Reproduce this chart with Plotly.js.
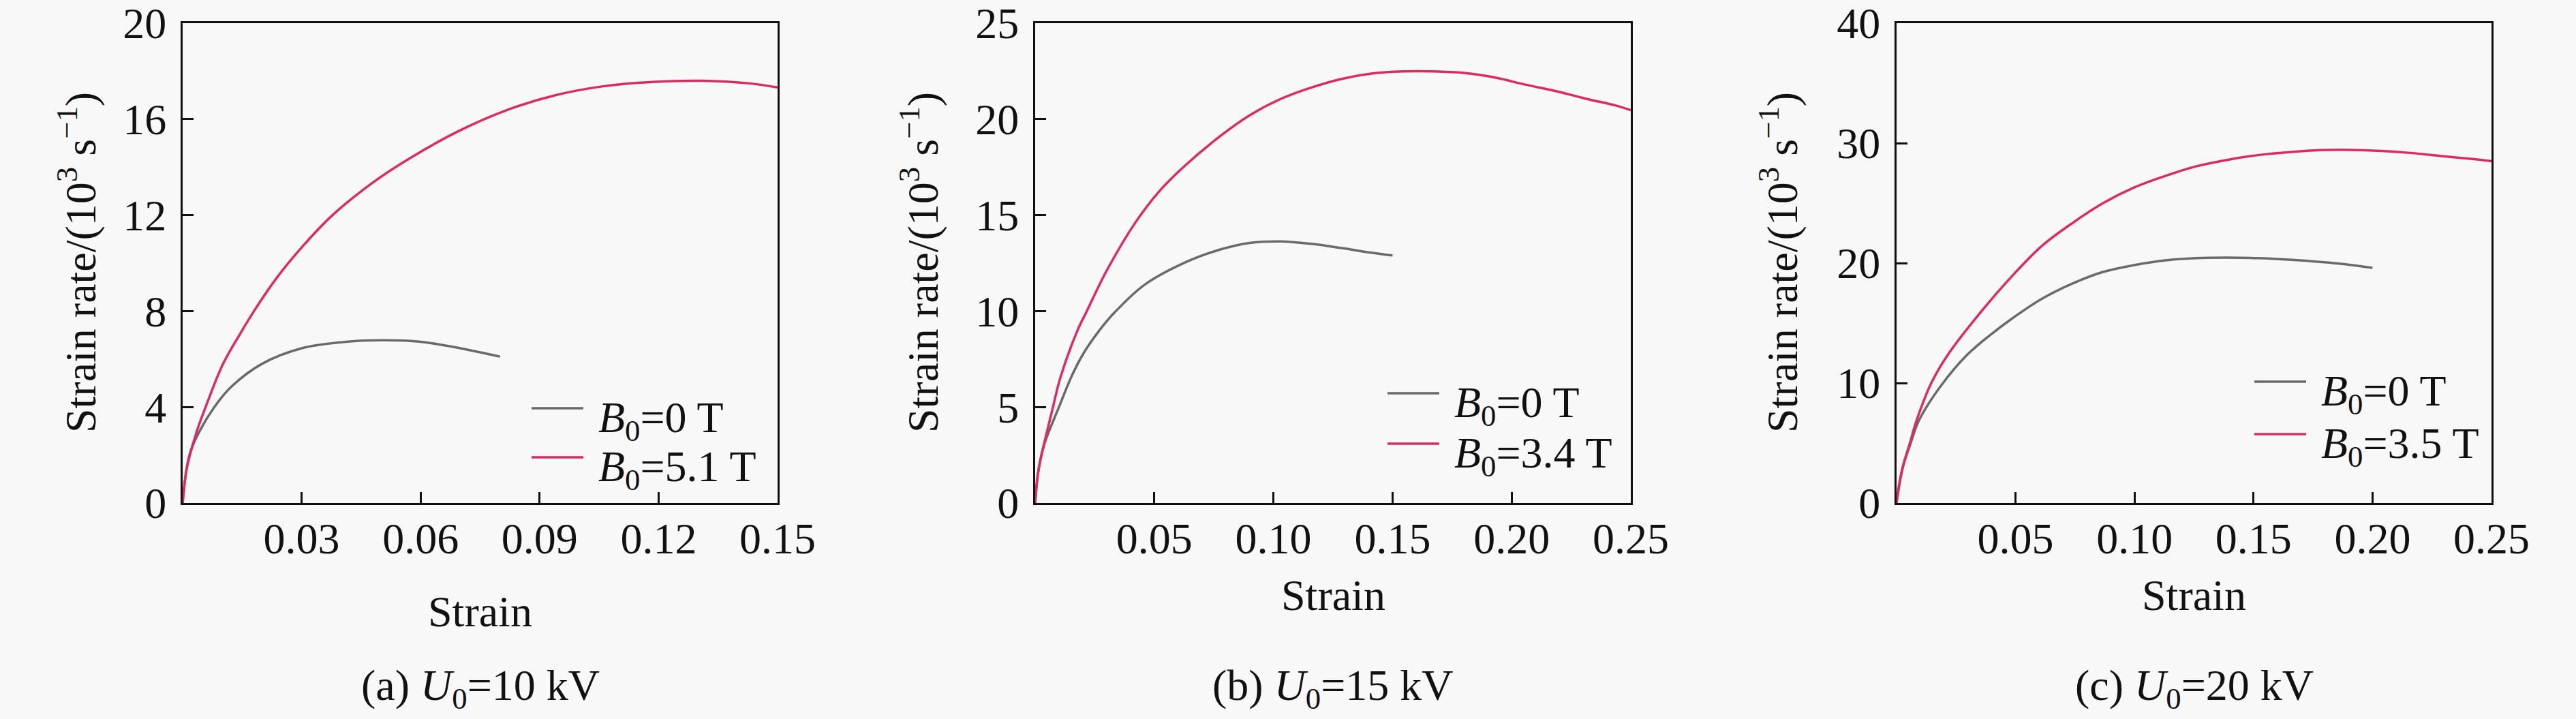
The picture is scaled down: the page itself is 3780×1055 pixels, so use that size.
<!DOCTYPE html>
<html>
<head>
<meta charset="utf-8">
<script src="https://cdn.plot.ly/plotly-3.0.1.min.js"></script>
<style>
  body { margin: 0; background: #f8f8f8; }
  #plotDiv { width: 3780px; height: 1055px; }
</style>
</head>
<body>
<div id="plotDiv"></div>
<script>
// panel (a) U0 = 10 kV
var strainA0 = [0, 0.0017, 0.0043, 0.008, 0.0123, 0.02, 0.03, 0.04, 0.05, 0.06, 0.07, 0.08];
var rateA0 = [0, 2.0, 3.0, 4.0, 4.85, 5.8, 6.45, 6.7, 6.78, 6.72, 6.45, 6.1];
var strainA1 = [0, 0.001, 0.0034, 0.0058, 0.0102, 0.0145, 0.018, 0.0238, 0.03, 0.0378, 0.0479, 0.057, 0.0693, 0.0816, 0.0938, 0.106, 0.1184, 0.1307, 0.143, 0.15];
var rateA1 = [0, 1.4, 2.9, 4.0, 5.8, 7.05, 8.0, 9.4, 10.65, 12.0, 13.35, 14.34, 15.48, 16.37, 16.99, 17.37, 17.55, 17.6, 17.49, 17.32];

// panel (b) U0 = 15 kV
var strainB0 = [0, 0.0017, 0.004, 0.01, 0.0155, 0.0205, 0.027, 0.0335, 0.046, 0.0634, 0.0775, 0.090, 0.103, 0.116, 0.1287, 0.1416, 0.15];
var rateB0 = [0, 1.94, 3.12, 5.0, 6.66, 7.84, 9.0, 9.95, 11.38, 12.56, 13.2, 13.55, 13.63, 13.5, 13.28, 13.03, 12.9];
var strainB1 = [0, 0.0004, 0.0017, 0.0075, 0.0105, 0.0178, 0.0217, 0.03, 0.042, 0.0518, 0.0622, 0.0775, 0.090, 0.103, 0.116, 0.1287, 0.1416, 0.1544, 0.167, 0.180, 0.193, 0.2057, 0.2186, 0.231, 0.244, 0.25];
var rateB1 = [0, 0.75, 1.94, 5.0, 6.5, 9.0, 10.0, 12.1, 14.6, 16.2, 17.5, 19.1, 20.2, 21.05, 21.65, 22.1, 22.38, 22.49, 22.49, 22.41, 22.17, 21.8, 21.46, 21.07, 20.7, 20.47];

// panel (c) U0 = 20 kV
var strainC0 = [0, 0.0027, 0.0058, 0.0094, 0.0184, 0.0294, 0.04, 0.048, 0.0609, 0.074, 0.0868, 0.0998, 0.113, 0.1258, 0.1388, 0.1518, 0.1648, 0.1778, 0.1908, 0.2];
var rateC0 = [0, 3.0, 4.9, 6.87, 9.7, 12.3, 14.1, 15.3, 17.0, 18.3, 19.26, 19.83, 20.23, 20.41, 20.45, 20.41, 20.28, 20.1, 19.85, 19.6];
var strainC1 = [0, 0.0008, 0.0027, 0.0056, 0.0084, 0.0146, 0.0222, 0.037, 0.048, 0.0609, 0.074, 0.0868, 0.0998, 0.113, 0.1258, 0.1388, 0.1518, 0.1648, 0.1778, 0.1908, 0.2037, 0.2167, 0.2297, 0.2426, 0.25];
var rateC1 = [0, 1.21, 3.1, 4.99, 6.87, 10.0, 12.54, 16.3, 18.8, 21.4, 23.35, 25.0, 26.3, 27.27, 28.06, 28.6, 29.0, 29.25, 29.42, 29.44, 29.35, 29.17, 28.91, 28.66, 28.5];

var namesA = ['<i>B</i><sub>0</sub>=0 T', '<i>B</i><sub>0</sub>=5.1 T'];
var namesB = ['<i>B</i><sub>0</sub>=0 T', '<i>B</i><sub>0</sub>=3.4 T'];
var namesC = ['<i>B</i><sub>0</sub>=0 T', '<i>B</i><sub>0</sub>=3.5 T'];
var captions = ['(a) <i>U</i><sub>0</sub>=10 kV', '(b) <i>U</i><sub>0</sub>=15 kV', '(c) <i>U</i><sub>0</sub>=20 kV'];

var xTicksA = [0.03, 0.06, 0.09, 0.12, 0.15];
var xTextA = ['0.03', '0.06', '0.09', '0.12', '0.15'];
var xTicksBC = [0.05, 0.10, 0.15, 0.20, 0.25];
var xTextBC = ['0.05', '0.10', '0.15', '0.20', '0.25'];
var yTicksA = [0, 4, 8, 12, 16, 20];
var yTicksB = [0, 5, 10, 15, 20, 25];
var yTicksC = [0, 10, 20, 30, 40];

var xTitle = 'Strain';
var yTitle = 'Strain rate/(10<sup>3</sup> s<sup>\u22121</sup>)';

var grey = '#6a6a6a';
var pink = '#dc2a62';
var W = 3780, H = 1055;

function px(v){ return v / W; }
function py(v){ return 1 - v / H; }

function makeTrace(x, y, color, ax){
  return {
    x: x, y: y,
    xaxis: 'x' + ax, yaxis: 'y' + ax,
    mode: 'lines', type: 'scatter',
    line: {color: color, width: 3.5, shape: 'spline', smoothing: 1},
    showlegend: false, hoverinfo: 'skip'
  };
}

function xAxis(left, right, rng, vals, text, yname){
  return {
    domain: [px(left), px(right)], range: rng, anchor: yname,
    tickvals: vals, ticktext: text, ticks: 'inside', ticklen: 16, tickwidth: 3,
    tickcolor: '#111', ticklabelstandoff: -6, ticklabeloverflow: 'allow',
    showline: true, linewidth: 3, linecolor: '#111', mirror: true,
    showgrid: false, zeroline: false, fixedrange: true
  };
}

function yAxis(rng, vals, xname){
  return {
    domain: [py(738), py(34)], range: rng, anchor: xname,
    tickvals: vals, ticktext: vals.map(String), ticks: 'inside', ticklen: 16, tickwidth: 3,
    tickcolor: '#111', ticklabelstandoff: 8, ticklabeloverflow: 'allow',
    showline: true, linewidth: 3, linecolor: '#111', mirror: true,
    showgrid: false, zeroline: false, fixedrange: true
  };
}

function makePlot(){
  var data = [
    makeTrace(strainA0, rateA0, grey, ''),
    makeTrace(strainA1, rateA1, pink, ''),
    makeTrace(strainB0, rateB0, grey, '2'),
    makeTrace(strainB1, rateB1, pink, '2'),
    makeTrace(strainC0, rateC0, grey, '3'),
    makeTrace(strainC1, rateC1, pink, '3')
  ];

  // panel placement in pixels
  var panels = [
    {l: 268, r: 1141, yt: 113, xt: 897, leg: [780, 856, 876, 599, 671], names: namesA},
    {l: 1519, r: 2393, yt: 1349, xt: 873, leg: [2036, 2112, 2132, 577, 651], names: namesB},
    {l: 2783, r: 3656, yt: 2610, xt: 873, leg: [3308, 3384, 3404, 560, 637], names: namesC}
  ];

  var annotations = [];
  var shapes = [];
  var colors = [grey, pink];
  panels.forEach(function(p, i){
    var cx = (p.l + p.r) / 2;
    annotations.push({text: xTitle, xref: 'paper', yref: 'paper', x: px(cx), y: py(p.xt),
      xanchor: 'center', yanchor: 'middle', showarrow: false});
    annotations.push({text: captions[i], xref: 'paper', yref: 'paper', x: px(cx), y: py(1010),
      xanchor: 'center', yanchor: 'middle', showarrow: false});
    annotations.push({text: yTitle, xref: 'paper', yref: 'paper', x: px(p.yt), y: py(385),
      xanchor: 'center', yanchor: 'middle', textangle: -90, showarrow: false});
    for (var k = 0; k < 2; k++){
      var ly = p.leg[3 + k];
      shapes.push({type: 'line', xref: 'paper', yref: 'paper',
        x0: px(p.leg[0]), x1: px(p.leg[1]), y0: py(ly), y1: py(ly),
        line: {color: colors[k], width: 3.5}});
      annotations.push({text: p.names[k], xref: 'paper', yref: 'paper',
        x: px(p.leg[2]), y: py(ly + 18), xanchor: 'left', yanchor: 'middle', showarrow: false});
    }
  });

  var layout = {
    width: W, height: H,
    margin: {l: 0, r: 0, t: 0, b: 0},
    paper_bgcolor: '#f8f8f8', plot_bgcolor: '#f8f8f8',
    font: {family: 'Liberation Serif, Times New Roman, serif', size: 64, color: '#111'},
    showlegend: false,
    xaxis: xAxis(268, 1141, [0, 0.15], xTicksA, xTextA, 'y'),
    yaxis: yAxis([0, 20.001], yTicksA, 'x'),
    xaxis2: xAxis(1519, 2393, [0, 0.25], xTicksBC, xTextBC, 'y2'),
    yaxis2: yAxis([0, 25.001], yTicksB, 'x2'),
    xaxis3: xAxis(2783, 3656, [0, 0.25], xTicksBC, xTextBC, 'y3'),
    yaxis3: yAxis([0, 40.002], yTicksC, 'x3'),
    annotations: annotations,
    shapes: shapes
  };

  Plotly.newPlot('plotDiv', data, layout, {staticPlot: true});
}

makePlot();
</script>
</body>
</html>
